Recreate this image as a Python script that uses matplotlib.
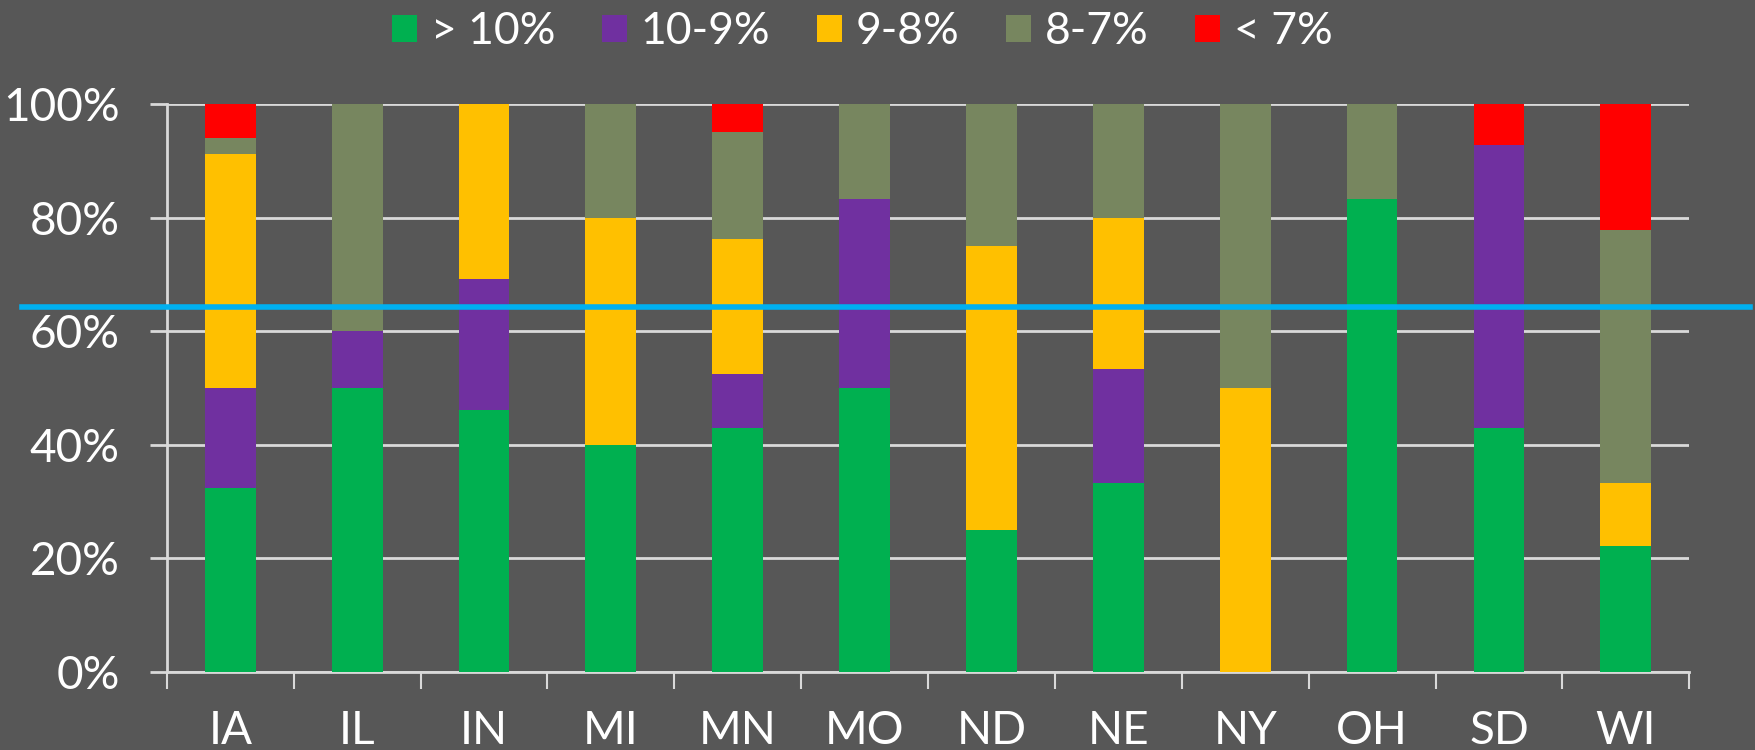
import matplotlib
matplotlib.use("Agg")
import matplotlib.pyplot as plt
import numpy as np
from matplotlib.patches import Patch

states = ["IA", "IL", "IN", "MI", "MN", "MO", "ND", "NE", "NY", "OH", "SD", "WI"]
series_names = ["> 10%", "10-9%", "9-8%", "8-7%", "< 7%"]
gt10 = [32.4, 50.0, 46.2, 40.0, 42.9, 50.0, 25.0, 33.3, 0.0, 83.3, 42.9, 22.2]
r10_9 = [17.6, 10.0, 23.1, 0.0, 9.5, 33.3, 0.0, 20.0, 0.0, 0.0, 50.0, 0.0]
r9_8 = [41.2, 0.0, 30.7, 40.0, 23.8, 0.0, 50.0, 26.7, 50.0, 0.0, 0.0, 11.1]
r8_7 = [2.9, 40.0, 0.0, 20.0, 19.0, 16.7, 25.0, 20.0, 50.0, 16.7, 0.0, 44.5]
lt7 = [5.9, 0.0, 0.0, 0.0, 4.8, 0.0, 0.0, 0.0, 0.0, 0.0, 7.1, 22.2]
target_line = 64.3
yticks = [0, 20, 40, 60, 80, 100]

colors = ["#00B050", "#7030A0", "#FFC000", "#77865F", "#FF0000"]
bg = "#575757"
txt = "white"
grid_c = "#D9D9D9"
plt.rcParams["font.family"] = ["Lato", "DejaVu Sans"]

fig = plt.figure(figsize=(17.56, 7.5), dpi=100, facecolor=bg)
ax = fig.add_axes([0.095, 0.104, 0.867, 0.757], facecolor=bg)

x = np.arange(len(states))
bottom = np.zeros(len(states))
for vals, c in zip([gt10, r10_9, r9_8, r8_7, lt7], colors):
    v = np.array(vals)
    ax.bar(x, v, width=0.4, bottom=bottom, color=c, zorder=3, linewidth=0)
    bottom += v

ax.set_xlim(-0.5, len(states) - 0.5)
ax.set_ylim(0, 100)
ax.set_yticks(yticks)
ax.set_yticklabels([f"{t}%" for t in yticks])
ax.yaxis.grid(True, color=grid_c, linewidth=2, zorder=1)
ax.set_axisbelow(True)

ax.set_xticks(np.arange(-0.5, len(states), 1.0))
ax.set_xticklabels([])
ax.set_xticks(x, minor=True)
ax.set_xticklabels(states, minor=True)
ax.tick_params(axis="x", which="major", length=12, width=1.5, color=grid_c, direction="out")
ax.tick_params(axis="x", which="minor", length=0, pad=27, labelsize=33, labelcolor=txt)
ax.tick_params(axis="y", length=12, width=2, color=grid_c, pad=22, labelsize=33, labelcolor=txt)

for s in ["top", "right"]:
    ax.spines[s].set_visible(False)
ax.spines["left"].set_color(grid_c)
ax.spines["left"].set_linewidth(2)
ax.spines["bottom"].set_color(grid_c)
ax.spines["bottom"].set_linewidth(2)

ax.axhline(target_line, xmin=-0.095, xmax=1.040, color="#00B0F0", linewidth=4,
           zorder=5, clip_on=False)

handles = [Patch(facecolor=c, edgecolor="none") for c in colors]
leg = fig.legend(handles, series_names, loc="center", bbox_to_anchor=(0.491, 0.958),
                 ncol=5, frameon=False, fontsize=32, labelcolor=txt,
                 handlelength=0.57, handleheight=0.57, handletextpad=0.3,
                 columnspacing=1.05, borderpad=0)

fig.savefig("out.png", dpi=100, facecolor=bg)
